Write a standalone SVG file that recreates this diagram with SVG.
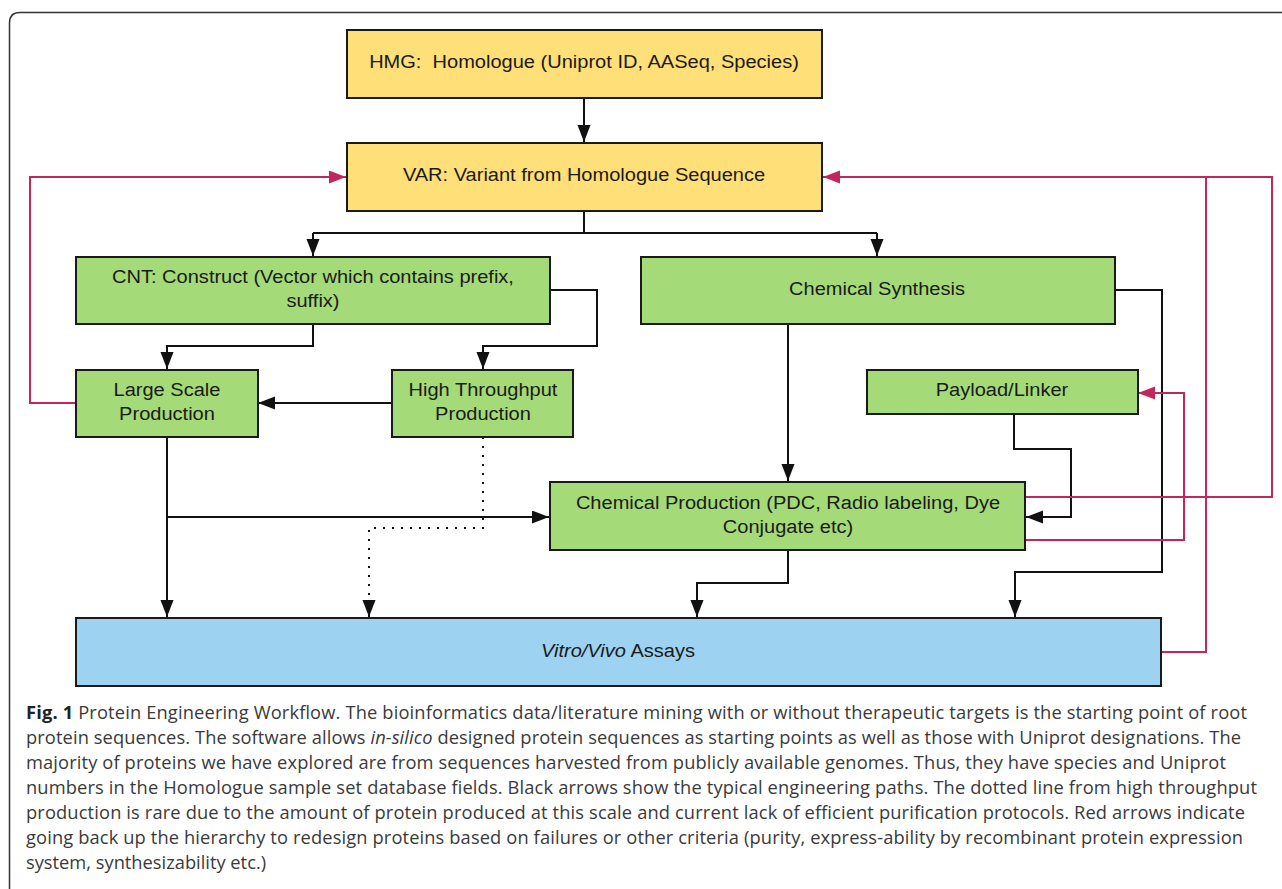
<svg xmlns="http://www.w3.org/2000/svg" width="1282" height="889" viewBox="0 0 1282 889">
<style>
.frame{fill:none;stroke:#333;stroke-width:1.5}
.box{stroke:#1a1a1a;stroke-width:2}
.y{fill:#FFDF77}
.g{fill:#A4DA77}
.b{fill:#9DD2F1}
.lbl{font-family:"Liberation Sans",Arial,sans-serif;font-size:19px;fill:#1a1a1a;text-anchor:middle;transform-box:fill-box;transform-origin:center;transform:scaleX(1.055)}
.k{fill:none;stroke:#111;stroke-width:2}
.dot{fill:none;stroke:#111;stroke-width:2;stroke-dasharray:2 7}
.r{fill:none;stroke:#C1275F;stroke-width:2}
.cap{font-family:"Open Sans","Noto Sans",sans-serif;font-size:18.3px;fill:#3a3a3a}
</style>
<defs>
<marker id="ak" markerUnits="userSpaceOnUse" markerWidth="18" markerHeight="14" refX="17" refY="6.5" orient="auto">
<path d="M0,0 L17,6.5 L0,13 z" fill="#111"/>
</marker>
<marker id="ar" markerUnits="userSpaceOnUse" markerWidth="18" markerHeight="14" refX="17" refY="6.5" orient="auto">
<path d="M0,0 L17,6.5 L0,13 z" fill="#C1275F"/>
</marker>
</defs>
<rect width="1282" height="889" fill="#fff"/>
<path class="frame" d="M9.5,889 V23 Q9.5,12.5 20,12.5 H1282"/>

<g id="connectors">
<path class="k" d="M584,98 V142" marker-end="url(#ak)"/>
<path class="k" d="M584,211 V233 M313,233 H877"/>
<path class="k" d="M313,233 V256" marker-end="url(#ak)"/>
<path class="k" d="M877,233 V256" marker-end="url(#ak)"/>
<path class="k" d="M313,324 V346 H167 V369" marker-end="url(#ak)"/>
<path class="k" d="M550,290 H597 V346 H483 V369" marker-end="url(#ak)"/>
<path class="k" d="M392,403 H258" marker-end="url(#ak)"/>
<path class="k" d="M167,437 V617" marker-end="url(#ak)"/>
<path class="k" d="M167,517 H549" marker-end="url(#ak)"/>
<path class="dot" d="M483,437 V528 H369 V600"/>
<path class="k" d="M369,600 V617" marker-end="url(#ak)"/>
<path class="k" d="M788,324 V481" marker-end="url(#ak)"/>
<path class="k" d="M1014,414 V449 H1071 V517 H1026" marker-end="url(#ak)"/>
<path class="k" d="M788,550 V583 H697 V617" marker-end="url(#ak)"/>
<path class="k" d="M1115,290 H1162 V572 H1015 V617" marker-end="url(#ak)"/>
<path class="r" d="M76,403 H30 V177 H346" marker-end="url(#ar)"/>
<path class="r" d="M1025,497 H1272 V177 H823" marker-end="url(#ar)"/>
<path class="r" d="M1161,652 H1206 V177"/>
<path class="r" d="M1025,540 H1184 V393 H1138" marker-end="url(#ar)"/>
</g>

<g id="hmg">
<rect class="box y" x="347" y="30" width="475" height="68"/>
<text class="lbl" x="584" y="68.5">HMG:&#160; Homologue (Uniprot ID, AASeq, Species)</text>
</g>
<g id="var">
<rect class="box y" x="347" y="143" width="475" height="68"/>
<text class="lbl" x="584" y="181.5">VAR: Variant from Homologue Sequence</text>
</g>
<g id="cnt">
<rect class="box g" x="76" y="257" width="474" height="67"/>
<text class="lbl" x="313" y="283">CNT: Construct (Vector which contains prefix,</text>
<text class="lbl" x="313" y="307">suffix)</text>
</g>
<g id="chemsynth">
<rect class="box g" x="641" y="257" width="474" height="67"/>
<text class="lbl" x="877" y="295">Chemical Synthesis</text>
</g>
<g id="largescale">
<rect class="box g" x="76" y="370" width="182" height="67"/>
<text class="lbl" x="167" y="396">Large Scale</text>
<text class="lbl" x="167" y="420">Production</text>
</g>
<g id="highthroughput">
<rect class="box g" x="392" y="370" width="181" height="67"/>
<text class="lbl" x="483" y="396">High Throughput</text>
<text class="lbl" x="483" y="420">Production</text>
</g>
<g id="payload">
<rect class="box g" x="867" y="370" width="271" height="44"/>
<text class="lbl" x="1002" y="396">Payload/Linker</text>
</g>
<g id="chemprod">
<rect class="box g" x="550" y="482" width="475" height="68"/>
<text class="lbl" x="788" y="509">Chemical Production (PDC, Radio labeling, Dye</text>
<text class="lbl" x="788" y="533">Conjugate etc)</text>
</g>
<g id="assays">
<rect class="box b" x="76" y="618" width="1085" height="68"/>
<text class="lbl" x="618" y="657"><tspan font-style="italic">Vitro/Vivo</tspan> Assays</text>
</g>

<g id="caption">
<text class="cap" x="26" y="719" textLength="1221" lengthAdjust="spacing"><tspan font-weight="bold" fill="#222">Fig. 1</tspan> Protein Engineering Workflow. The bioinformatics data/literature mining with or without therapeutic targets is the starting point of root</text>
<text class="cap" x="26" y="744" textLength="1215" lengthAdjust="spacing">protein sequences. The software allows <tspan font-style="italic">in-silico</tspan> designed protein sequences as starting points as well as those with Uniprot designations. The</text>
<text class="cap" x="26" y="769" textLength="1200" lengthAdjust="spacing">majority of proteins we have explored are from sequences harvested from publicly available genomes. Thus, they have species and Uniprot</text>
<text class="cap" x="26" y="794" textLength="1231" lengthAdjust="spacing">numbers in the Homologue sample set database fields. Black arrows show the typical engineering paths. The dotted line from high throughput</text>
<text class="cap" x="26" y="819" textLength="1219" lengthAdjust="spacing">production is rare due to the amount of protein produced at this scale and current lack of efficient purification protocols. Red arrows indicate</text>
<text class="cap" x="26" y="844" textLength="1217" lengthAdjust="spacing">going back up the hierarchy to redesign proteins based on failures or other criteria (purity, express-ability by recombinant protein expression</text>
<text class="cap" x="26" y="869">system, synthesizability etc.)</text>
</g>
</svg>
